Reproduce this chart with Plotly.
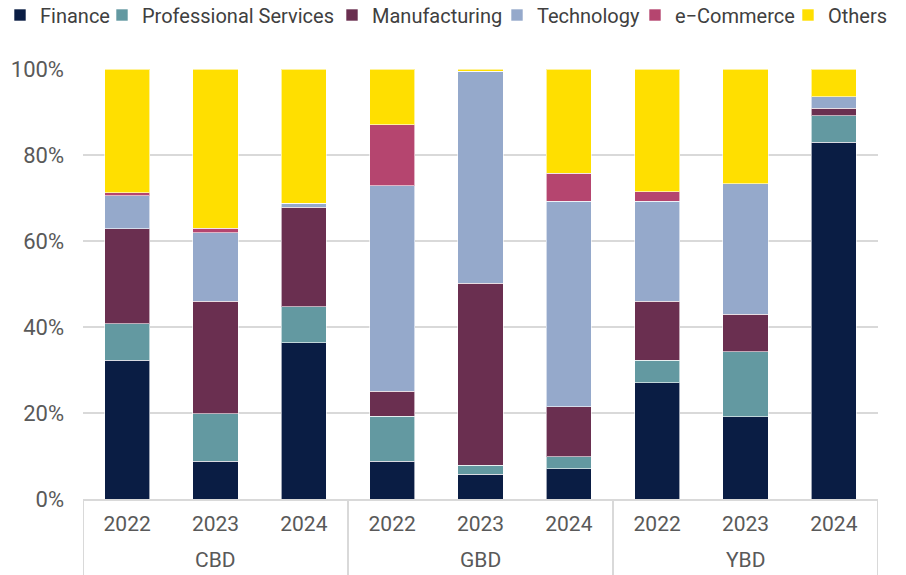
import plotly.graph_objects as go

groups = ["CBD"] * 3 + ["GBD"] * 3 + ["YBD"] * 3
years = ["2022", "2023", "2024"] * 3
group_names = ["CBD", "GBD", "YBD"]

finance = [32.3, 8.8, 36.3, 8.8, 5.8, 7.0, 27.0, 19.1, 83.0]
professional = [8.4, 11.0, 8.4, 10.5, 2.1, 2.8, 5.3, 15.1, 6.1]
manufacturing = [22.1, 26.2, 23.2, 5.8, 42.3, 11.6, 13.7, 8.8, 1.8]
technology = [7.7, 15.9, 0.9, 47.7, 49.3, 47.9, 23.3, 30.3, 2.6]
ecommerce = [0.7, 1.1, 0.0, 14.2, 0.0, 6.5, 2.1, 0.0, 0.0]
others = [28.8, 37.0, 31.2, 13.0, 0.5, 24.2, 28.6, 26.7, 6.5]

series = [
    ("Finance", finance, "#0A1D44"),
    ("Professional Services", professional, "#6399A1"),
    ("Manufacturing", manufacturing, "#6A2F50"),
    ("Technology", technology, "#95A9CB"),
    ("e\u2212Commerce", ecommerce, "#B5456F"),
    ("Others", others, "#FFDF00"),
]

# left edge (px) of each legend swatch
legend_swatch_x = [14.5, 122, 352, 517, 655, 808]

W, H = 906, 575
M_L, M_R, M_T, M_B = 83, 28, 69, 76
PH = H - M_T - M_B
font = "Roboto, sans-serif"
cats = [f"{g} {y}" for g, y in zip(groups, years)]

fig = go.Figure()
legend_layout = {}
for i, (name, vals, color) in enumerate(series):
    key = "legend" if i == 0 else f"legend{i + 1}"
    fig.add_trace(go.Bar(
        x=cats, y=vals, name=name, legend=key,
        marker=dict(color=color, line=dict(color="rgba(255,255,255,0.6)", width=1)),
    ))
    legend_layout[key] = dict(
        orientation="h", xref="container", yref="container",
        x=(legend_swatch_x[i] - 20) / W, xanchor="left",
        y=1 - 15 / H, yanchor="middle",
        font=dict(family=font, size=20, color="#404040"),
        itemwidth=30, itemclick=False, bgcolor="rgba(0,0,0,0)",
    )

# group labels and dividers below the axis
annotations = []
shapes = []
for gi, g in enumerate(group_names):
    members = [c for c, gg in zip(cats, groups) if gg == g]
    annotations.append(dict(
        text=g, x=members[len(members) // 2], xref="x", y=-61 / PH, yref="paper",
        yanchor="middle", showarrow=False,
        font=dict(family=font, size=21, color="#595959"),
    ))
n_per = len(cats) // len(group_names)
for k in range(len(group_names) + 1):
    xpos = k * n_per - 0.5
    shapes.append(dict(type="line", xref="x", yref="paper", x0=xpos, x1=xpos,
                       y0=0, y1=-M_B / PH, line=dict(color="#D9D9D9", width=2)))

fig.update_layout(
    barmode="stack",
    bargap=0.49,
    width=W, height=H,
    margin=dict(l=M_L, r=M_R, t=M_T, b=M_B, autoexpand=False),
    plot_bgcolor="white", paper_bgcolor="white",
    font=dict(family=font, size=21, color="#404040"),
    showlegend=True,
    annotations=annotations,
    shapes=shapes,
    **legend_layout,
)
fig.update_yaxes(range=[0, 100], dtick=20, ticksuffix="%", showgrid=True,
                 gridcolor="#D9D9D9", gridwidth=2, zeroline=False,
                 tickfont=dict(family=font, size=22, color="#595959"),
                 ticks="", ticklabelstandoff=18)
fig.update_xaxes(type="category", range=[-0.5, len(cats) - 0.5],
                 tickvals=cats, ticktext=years,
                 showline=True, linecolor="#D9D9D9", linewidth=2,
                 tickfont=dict(family=font, size=21, color="#595959"),
                 ticks="", ticklabelstandoff=5)
fig.write_html("out.html")
